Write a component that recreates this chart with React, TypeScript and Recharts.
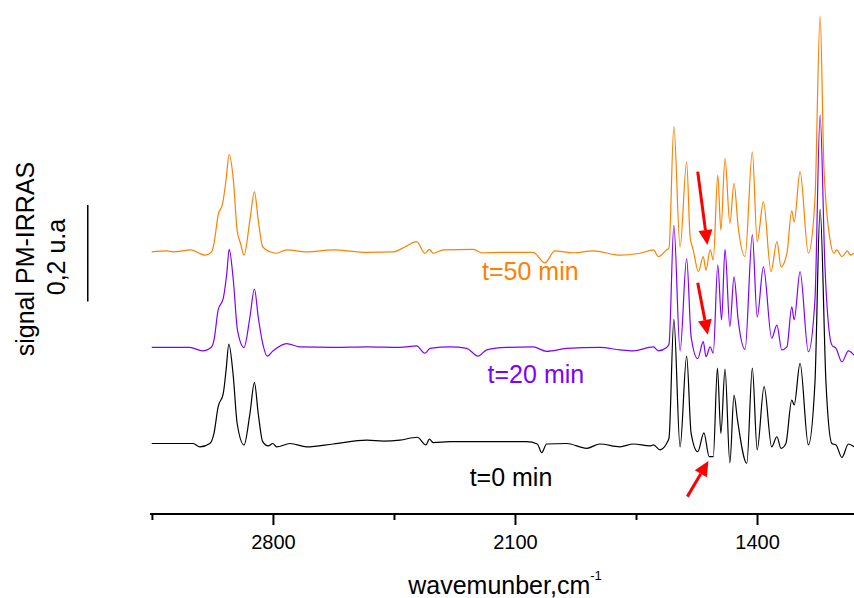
import { LineChart, Line, XAxis, YAxis, ReferenceLine, ReferenceDot } from 'recharts'

// PM-IRRAS spectra, stacked as plotted: [wavenumber cm-1, signal u.a]
const t50: [number, number][] = [
  [3152, 0.543], [3109, 0.545], [3090, 0.543], [3037, 0.547], [3018, 0.541], [2998, 0.536],
  [2979, 0.543], [2972, 0.56], [2960, 0.619], [2947, 0.643], [2937, 0.692], [2928, 0.745],
  [2916, 0.692], [2905, 0.588], [2895, 0.56], [2885, 0.536], [2868, 0.609], [2855, 0.667],
  [2844, 0.609], [2831, 0.553], [2810, 0.543], [2791, 0.54], [2762, 0.547], [2704, 0.543],
  [2627, 0.547], [2530, 0.542], [2453, 0.543], [2420, 0.553], [2386, 0.564], [2362, 0.54],
  [2349, 0.548], [2338, 0.54], [2309, 0.547], [2222, 0.548], [2198, 0.541], [2145, 0.542],
  [2049, 0.542], [2015, 0.52], [1986, 0.545], [1933, 0.541], [1875, 0.545], [1798, 0.536],
  [1740, 0.54], [1701, 0.547], [1687, 0.533], [1663, 0.547], [1656, 0.551], [1642, 0.803],
  [1624, 0.553], [1605, 0.729], [1595, 0.574], [1586, 0.547], [1571, 0.502], [1557, 0.533],
  [1549, 0.505], [1537, 0.547], [1528, 0.526], [1515, 0.702], [1506, 0.588], [1494, 0.736],
  [1480, 0.602], [1468, 0.685], [1456, 0.595], [1436, 0.533], [1415, 0.75], [1401, 0.564],
  [1383, 0.647], [1361, 0.502], [1344, 0.564], [1332, 0.512], [1315, 0.54], [1301, 0.628],
  [1294, 0.605], [1277, 0.709], [1253, 0.54], [1234, 0.65], [1219, 1.031], [1208, 0.719],
  [1190, 0.567], [1179, 0.54], [1171, 0.547], [1156, 0.533], [1140, 0.545], [1132, 0.536],
  [1121, 0.54],
]

const t20: [number, number][] = [
  [3152, 0.345], [3090, 0.345], [3042, 0.345], [3005, 0.338], [2979, 0.346], [2972, 0.36],
  [2960, 0.422], [2945, 0.447], [2935, 0.498], [2928, 0.548], [2916, 0.484], [2904, 0.381],
  [2885, 0.345], [2868, 0.408], [2855, 0.466], [2844, 0.408], [2831, 0.353], [2818, 0.327],
  [2801, 0.338], [2762, 0.353], [2723, 0.346], [2627, 0.345], [2530, 0.346], [2434, 0.345],
  [2386, 0.348], [2362, 0.333], [2347, 0.343], [2289, 0.346], [2241, 0.343], [2208, 0.327],
  [2183, 0.34], [2125, 0.345], [2049, 0.346], [2010, 0.337], [1952, 0.343], [1856, 0.345],
  [1798, 0.34], [1759, 0.338], [1701, 0.346], [1687, 0.338], [1663, 0.345], [1656, 0.352],
  [1642, 0.598], [1624, 0.338], [1605, 0.529], [1592, 0.367], [1573, 0.322], [1557, 0.357],
  [1549, 0.326], [1537, 0.346], [1528, 0.333], [1515, 0.516], [1504, 0.402], [1494, 0.548],
  [1480, 0.388], [1468, 0.491], [1456, 0.402], [1436, 0.341], [1415, 0.578], [1401, 0.408],
  [1383, 0.512], [1359, 0.364], [1344, 0.391], [1330, 0.34], [1315, 0.346], [1301, 0.429],
  [1294, 0.402], [1277, 0.502], [1253, 0.336], [1234, 0.443], [1219, 0.826], [1205, 0.512],
  [1185, 0.35], [1173, 0.343], [1156, 0.315], [1137, 0.338], [1121, 0.329],
]

const t0: [number, number][] = [
  [3152, 0.146], [3090, 0.146], [3032, 0.146], [3013, 0.139], [2984, 0.146], [2972, 0.167],
  [2960, 0.222], [2945, 0.25], [2937, 0.298], [2929, 0.352], [2916, 0.284], [2905, 0.188],
  [2885, 0.143], [2868, 0.208], [2855, 0.272], [2844, 0.208], [2831, 0.15], [2815, 0.141],
  [2802, 0.146], [2791, 0.139], [2752, 0.146], [2704, 0.139], [2627, 0.145], [2530, 0.153],
  [2482, 0.151], [2434, 0.153], [2384, 0.159], [2359, 0.143], [2349, 0.155], [2338, 0.148],
  [2289, 0.15], [2193, 0.15], [2068, 0.15], [2037, 0.145], [2024, 0.127], [2010, 0.145],
  [1952, 0.146], [1894, 0.136], [1856, 0.145], [1798, 0.139], [1759, 0.145], [1711, 0.141],
  [1701, 0.143], [1682, 0.133], [1660, 0.15], [1656, 0.157], [1642, 0.403], [1624, 0.139],
  [1605, 0.327], [1592, 0.167], [1573, 0.129], [1555, 0.168], [1540, 0.119], [1528, 0.119],
  [1516, 0.302], [1506, 0.167], [1494, 0.3], [1480, 0.106], [1468, 0.246], [1458, 0.195],
  [1431, 0.105], [1415, 0.302], [1401, 0.133], [1381, 0.264], [1359, 0.139], [1344, 0.16],
  [1332, 0.136], [1318, 0.146], [1301, 0.236], [1294, 0.226], [1277, 0.312], [1253, 0.143],
  [1234, 0.271], [1219, 0.631], [1202, 0.271], [1185, 0.146], [1173, 0.143], [1156, 0.117],
  [1137, 0.145], [1121, 0.139],
]

const MAJOR_TICKS = [2800, 2100, 1400]
const MINOR_TICKS = [3150, 2450, 1750]

// annotation arrows: [tail, tip] in wavenumber / signal
const arrows = [
  [{ x: 1573, y: 0.709 }, { x: 1545, y: 0.557 }],
  [{ x: 1573, y: 0.479 }, { x: 1544, y: 0.371 }],
  [{ x: 1603, y: 0.036 }, { x: 1542, y: 0.11 }],
]

const labels = [
  { text: 't=50 min', x: 2057, y: 0.484, color: '#ff8000' },
  { text: 't=20 min', x: 2041, y: 0.271, color: '#8000ff' },
  { text: 't=0 min', x: 2113, y: 0.057, color: '#000000' },
]

// 0,2 u.a scale bar
const scaleBar = [{ x: 3337, y: 0.44 }, { x: 3337, y: 0.64 }]

const FONT = '"Liberation Sans", Arial, sans-serif'

const toPoints = (rows: [number, number][]) => rows.map(([w, v]) => ({ w, v }))

function AxisTick({ x, y, payload }: any) {
  const major = MAJOR_TICKS.includes(payload.value)
  return (
    <g>
      <line x1={x} x2={x} y1={y} y2={y + (major ? 11 : 6)} stroke="#000" strokeWidth={2} />
      {major && (
        <text x={x} y={y + 35} textAnchor="middle" fontSize={20} fontFamily={FONT} fill="#000">
          {payload.value}
        </text>
      )}
    </g>
  )
}

function Arrow(props: any) {
  const { x1, y1, x2, y2 } = props
  const dx = x2 - x1
  const dy = y2 - y1
  const len = Math.sqrt(dx * dx + dy * dy)
  const ux = dx / len
  const uy = dy / len
  const head = 15
  const half = 7
  const bx = x2 - ux * head
  const by = y2 - uy * head
  return (
    <g>
      <line x1={x1} y1={y1} x2={bx} y2={by} stroke="#ff0000" strokeWidth={3} />
      <polygon
        points={`${x2},${y2} ${bx - uy * half},${by + ux * half} ${bx + uy * half},${by - ux * half}`}
        fill="#ff0000"
      />
    </g>
  )
}

export default function App() {
  return (
    <div style={{ width: 854, height: 598 }}>
      <style>{'body{margin:0}'}</style>
      <LineChart width={854} height={598} margin={{ top: 7, right: 0, bottom: 0, left: 0 }}>
        <XAxis
          type="number"
          dataKey="w"
          domain={[1121, 3157]}
          reversed
          allowDataOverflow
          ticks={[...MINOR_TICKS, ...MAJOR_TICKS].sort((a, b) => b - a)}
          tick={<AxisTick />}
          tickLine={false}
          tickSize={0}
          tickMargin={0}
          interval={0}
          height={84}
          axisLine={{ stroke: '#000', strokeWidth: 2 }}
          label={{
            content: () => (
              <text x={505} y={594} textAnchor="middle" fontSize={25} fontFamily={FONT} fill="#000">
                wavemunber,cm
                <tspan fontSize={13} dy={-14}>-1</tspan>
              </text>
            ),
          }}
        />
        <YAxis
          type="number"
          domain={[0, 1.05]}
          width={150}
          tick={false}
          tickLine={false}
          axisLine={false}
          label={{
            content: () => (
              <g fontFamily={FONT} fontSize={25} fill="#000">
                <text x={34} y={259} textAnchor="middle" transform="rotate(-90 34 259)">
                  signal PM-IRRAS
                </text>
                <text x={65} y={257} textAnchor="middle" transform="rotate(-90 65 257)">
                  0,2 u.a
                </text>
              </g>
            ),
          }}
        />
        <Line data={toPoints(t0)} dataKey="v" type="monotoneX" stroke="#000000" strokeWidth={1.2} dot={false} isAnimationActive={false} />
        <Line data={toPoints(t20)} dataKey="v" type="monotoneX" stroke="#8000ff" strokeWidth={1.2} dot={false} isAnimationActive={false} />
        <Line data={toPoints(t50)} dataKey="v" type="monotoneX" stroke="#ff8000" strokeWidth={1.2} dot={false} isAnimationActive={false} />
        <ReferenceLine segment={scaleBar} stroke="#000" strokeWidth={1.5} ifOverflow="visible" />
        {arrows.map((seg, i) => (
          <ReferenceLine key={`arrow-${i}`} segment={seg} ifOverflow="visible" shape={<Arrow />} />
        ))}
        {labels.map((l) => (
          <ReferenceDot
            key={l.text}
            x={l.x}
            y={l.y}
            ifOverflow="visible"
            shape={(p: any) => (
              <text x={p.cx} y={p.cy} textAnchor="middle" fontSize={25} fontFamily={FONT} fill={l.color}>
                {l.text}
              </text>
            )}
          />
        ))}
      </LineChart>
    </div>
  )
}
